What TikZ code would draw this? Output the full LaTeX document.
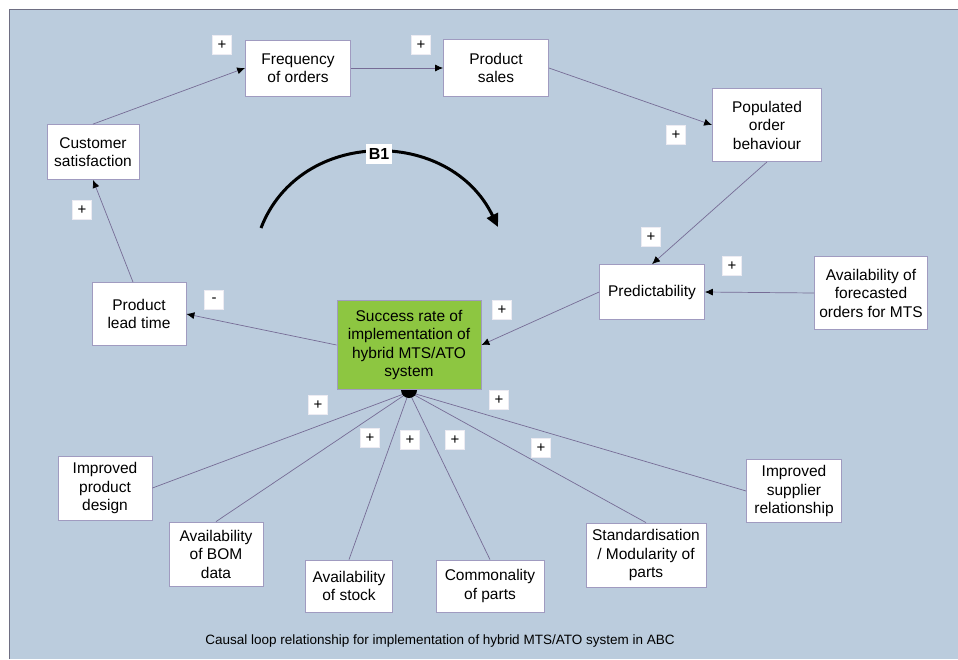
\documentclass[tikz,border=0pt]{standalone}
\usepackage{fontspec}
\setmainfont{Liberation Sans}
\usetikzlibrary{arrows.meta}
\definecolor{bgblue}{RGB}{187,204,221}
\definecolor{frameline}{RGB}{110,110,130}
\definecolor{linkline}{RGB}{118,108,150}
\definecolor{boxline}{RGB}{160,155,192}
\definecolor{successgreen}{RGB}{141,198,65}
\tikzset{
  stepbox/.style={draw=boxline, line width=0.8pt, fill=white, align=center,
    inner sep=0pt, font=\fontsize{15.5}{18.5}\selectfont},
  signbox/.style={draw=white!80!boxline, line width=0.4pt, fill=white, inner sep=0pt,
    minimum width=19pt, minimum height=19pt, font=\fontsize{15}{16}\selectfont},
  link/.style={draw=linkline, line width=0.7pt},
  arrowlink/.style={link, -{Latex[length=8pt,width=7pt,color=black]}},
}
\begin{document}
\begin{tikzpicture}[x=1pt,y=-1pt]
  % canvas and panel
  \useasboundingbox (0,0) rectangle (958,659);
  \fill[bgblue] (9,9) rectangle (958,659);
  \draw[frameline, line width=0.8pt] (9,659) -- (9,9) -- (958,9);

  % loop variables
  \node[stepbox, minimum width=105pt, minimum height=56pt] (freq) at (298,68) {Frequency\\of orders};
  \node[stepbox, minimum width=105pt, minimum height=57pt] (sales) at (496,68) {Product\\sales};
  \node[stepbox, minimum width=109pt, minimum height=73pt] (pob) at (767,125) {Populated\\order\\behaviour};
  \node[stepbox, minimum width=92pt, minimum height=55pt] (cs) at (93,152) {Customer\\satisfaction};
  \node[stepbox, minimum width=105pt, minimum height=55pt] (pred) at (652,292) {Predictability};
  \node[stepbox, minimum width=113pt, minimum height=73pt] (fore) at (871,293) {Availability of\\forecasted\\orders for MTS};
  \node[stepbox, minimum width=94pt, minimum height=63pt] (plt) at (139,314) {Product\\lead time};
  \node[stepbox, fill=successgreen, minimum width=144pt, minimum height=89pt] (sr) at (409,345)
    {Success rate of\\implementation of\\hybrid MTS/ATO\\system};

  % enabling factors
  \node[stepbox, minimum width=94pt, minimum height=64pt] (ipd) at (105,488) {Improved\\product\\design};
  \node[stepbox, minimum width=94pt, minimum height=64pt] (bom) at (216,554) {Availability\\of BOM\\data};
  \node[stepbox, minimum width=87pt, minimum height=52pt] (stock) at (349,586) {Availability\\of stock};
  \node[stepbox, minimum width=108pt, minimum height=52pt] (comm) at (490,586) {Commonality\\of parts};
  \node[stepbox, minimum width=120pt, minimum height=64pt] (std) at (646,555) {Standardisation\\/ Modularity of\\parts};
  \node[stepbox, minimum width=95pt, minimum height=63pt] (isr) at (794,491) {Improved\\supplier\\relationship};

  % causal links of the loop
  \draw[arrowlink] (cs.north) -- (freq.west);
  \draw[arrowlink] (freq.east) -- (sales.west);
  \draw[arrowlink] (sales.east) -- (pob.west);
  \draw[arrowlink] (pob.south) -- (pred.north);
  \draw[arrowlink] (fore.west) -- (pred.east);
  \draw[arrowlink] (pred.west) -- (sr.east);
  \draw[arrowlink] (sr.west) -- (plt.east);
  \draw[arrowlink] ([xshift=-6pt]plt.north) -- (cs.south);

  % factors feeding the success rate
  \coordinate (hub) at (409,392);
  \draw[link] (hub) -- (ipd.east);
  \draw[link] (hub) -- (bom.north);
  \draw[link] (hub) -- (stock.north);
  \draw[link] (hub) -- (comm.north);
  \draw[link] (hub) -- (std.north);
  \draw[link] (hub) -- (isr.west);
  \fill[black] (401,390) arc[start angle=180, end angle=360, radius=8pt] -- cycle;

  % polarity signs
  \node[signbox] (s1) at (222,45) {+};
  \node[signbox] (s2) at (421,45) {+};
  \node[signbox] (s3) at (676,135) {+};
  \node[signbox] (s4) at (82,210) {+};
  \node[signbox] (s5) at (651,237) {+};
  \node[signbox] (s6) at (732,266) {+};
  \node[signbox] (s7) at (502,310) {+};
  \node[signbox] (s8) at (214,300) {-};
  \node[signbox] (s9) at (318,405) {+};
  \node[signbox] (s10) at (499,400) {+};
  \node[signbox] (s11) at (370,438) {+};
  \node[signbox] (s12) at (410,440) {+};
  \node[signbox] (s13) at (455,440) {+};
  \node[signbox] (s14) at (541,448) {+};

  % balancing loop marker
  \coordinate (b1start) at (261,228);
  \coordinate (b1end) at (498,227);
  \draw[line width=3pt, -{Triangle[length=13pt,width=12pt]}]
    (b1start) .. controls (300,127) and (450,127) .. (b1end);
  \node[fill=white, minimum width=26pt, minimum height=20pt, inner sep=0pt,
    font=\bfseries\fontsize{16}{18}\selectfont] (b1) at (379,154) {B1};

  % caption
  \node[font=\fontsize{13.5}{16}\selectfont] (caption) at (440,641)
    {Causal loop relationship for implementation of hybrid MTS/ATO system in ABC};
\end{tikzpicture}
\end{document}
